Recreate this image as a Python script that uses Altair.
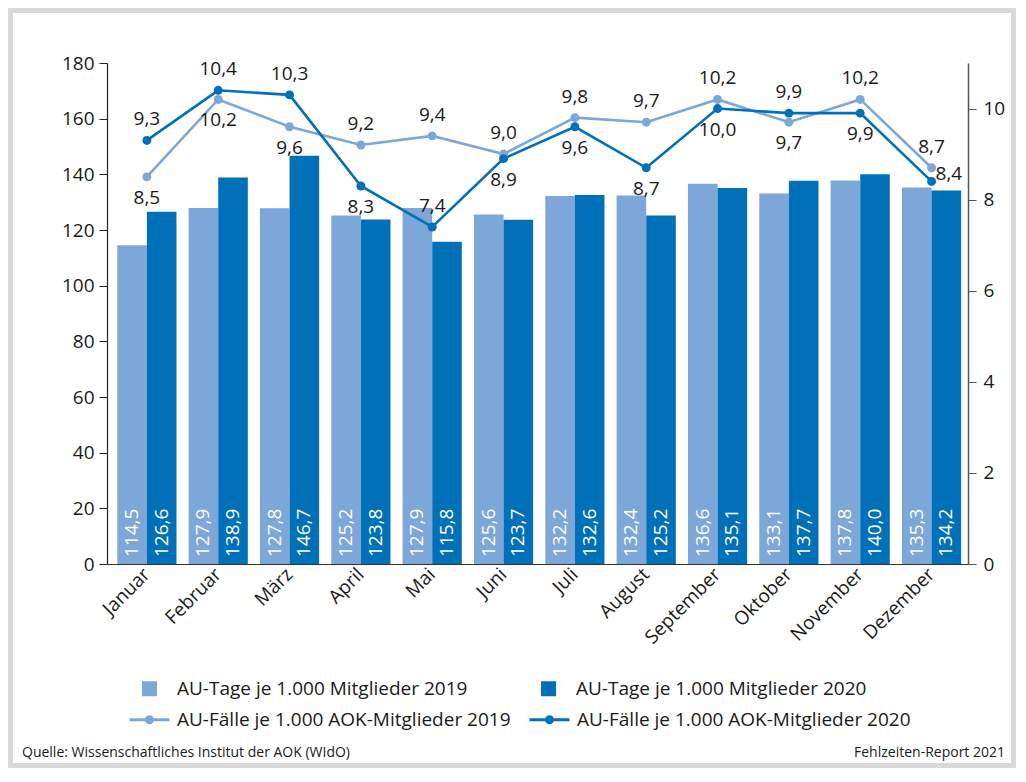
import altair as alt
import pandas as pd

FONT = "Open Sans"
LIGHT = "#7da7d8"
DARK = "#0071b8"
TXT = "#1a1a1a"

months = ["Januar", "Februar", "März", "April", "Mai", "Juni", "Juli",
          "August", "September", "Oktober", "November", "Dezember"]
tage_2019 = [114.5, 127.9, 127.8, 125.2, 127.9, 125.6, 132.2, 132.4, 136.6, 133.1, 137.8, 135.3]
tage_2020 = [126.6, 138.9, 146.7, 123.8, 115.8, 123.7, 132.6, 125.2, 135.1, 137.7, 140.0, 134.2]
faelle_2019 = [8.5, 10.2, 9.6, 9.2, 9.4, 9.0, 9.8, 9.7, 10.2, 9.7, 10.2, 8.7]
faelle_2020 = [9.3, 10.4, 10.3, 8.3, 7.4, 8.9, 9.6, 8.7, 10.0, 9.9, 9.9, 8.4]
label_pos_2019 = ["below", "below", "below", "above", "above", "above",
                  "above", "above", "above", "below", "above", "above"]
label_pos_2020 = ["above", "above", "above", "below", "above", "below",
                  "below", "below", "below", "above", "below", "right"]

bar_names = ["AU-Tage je 1.000 Mitglieder 2019", "AU-Tage je 1.000 Mitglieder 2020"]
line_names = ["AU-Fälle je 1.000 AOK-Mitglieder 2019", "AU-Fälle je 1.000 AOK-Mitglieder 2020"]


def fmt(v):
    return f"{v:.1f}".replace(".", ",")


bar_rows = []
for name, vals in zip(bar_names, [tage_2019, tage_2020]):
    for i, (m, v) in enumerate(zip(months, vals)):
        bar_rows.append({"month": m, "idx": i, "series": name, "value": v, "label": fmt(v)})
bars_df = pd.DataFrame(bar_rows)

line_rows = []
for name, vals, poss in zip(line_names, [faelle_2019, faelle_2020], [label_pos_2019, label_pos_2020]):
    for i, (m, v, p) in enumerate(zip(months, vals, poss)):
        line_rows.append({"month": m, "idx": i, "series": name, "value": v, "label": fmt(v), "pos": p})
lines_df = pd.DataFrame(line_rows)

x_scale = alt.Scale(domain=months, paddingInner=0.17, paddingOuter=0.12, align=0.6)
x_axis = alt.Axis(title=None, labelAngle=-45, labelAlign="right", labelBaseline="middle",
                  labelFont=FONT, labelFontSize=19, labelColor=TXT, ticks=False,
                  labelPadding=7, domainColor="#333333", domainWidth=1.2)
X = alt.X("month:N", sort=months, scale=x_scale, axis=x_axis)

# ---- left: bars ----
bars = alt.Chart(bars_df).mark_bar().encode(
    x=X,
    xOffset=alt.XOffset("series:N", sort=bar_names),
    y=alt.Y("value:Q", scale=alt.Scale(domain=[0, 180], nice=False),
            axis=alt.Axis(title=None, values=list(range(0, 181, 20)), grid=False,
                          labelFont=FONT, labelFontSize=19, labelColor=TXT,
                          tickSize=8, tickColor="#222222", domainColor="#222222",
                          labelPadding=5, domainWidth=1.2)),
    color=alt.Color("series:N",
                    scale=alt.Scale(domain=bar_names, range=[LIGHT, DARK]),
                    legend=alt.Legend(title=None, orient="none", legendX=33, legendY=616,
                                      direction="horizontal", columns=2,
                                      symbolType="square", symbolSize=225,
                                      labelFont=FONT, labelFontSize=19, labelColor=TXT,
                                      labelOffset=18, columnPadding=71, padding=0,
                                      labelLimit=600, symbolStrokeWidth=0)),
)

bar_labels = alt.Chart(bars_df).mark_text(
    angle=270, align="left", baseline="middle", dx=7, color="white",
    font=FONT, fontSize=19
).encode(
    x=X,
    xOffset=alt.XOffset("series:N", sort=bar_names),
    y=alt.datum(0),
    text="label:N",
)

left = alt.layer(bars, bar_labels)

# ---- right: lines ----
Y2 = alt.Y("value:Q", scale=alt.Scale(domain=[0, 11], nice=False),
           axis=alt.Axis(title=None, orient="right", values=[0, 2, 4, 6, 8, 10], grid=False,
                         labelFont=FONT, labelFontSize=19, labelColor=TXT,
                         tickSize=8, tickColor="#555555", domainColor="#555555",
                         labelPadding=7, domainWidth=1.5))

legend_path = ("M-1,0L1,0"
               "M0.15,0A0.15,0.15,0,1,1,-0.15,0A0.15,0.15,0,1,1,0.15,0Z"
               "M0.07,0A0.07,0.07,0,1,1,-0.07,0A0.07,0.07,0,1,1,0.07,0Z")

lines = alt.Chart(lines_df).mark_line(strokeWidth=2.6).encode(
    x=X,
    y=Y2,
    order=alt.Order("idx:Q"),
    color=alt.Color("series:N",
                    scale=alt.Scale(domain=line_names, range=[LIGHT, DARK]),
                    legend=alt.Legend(title=None, orient="none", legendX=21, legendY=635,
                                      direction="horizontal", columns=2,
                                      symbolType=legend_path, symbolSize=1600,
                                      symbolStrokeWidth=3,
                                      labelFont=FONT, labelFontSize=19, labelColor=TXT,
                                      labelOffset=6, columnPadding=12, padding=0,
                                      labelLimit=600)),
)

points = alt.Chart(lines_df).mark_circle(size=80, opacity=1).encode(
    x=X,
    y=Y2,
    fill=alt.Fill("series:N", scale=alt.Scale(domain=line_names, range=[LIGHT, DARK]),
                  legend=None),
)


def val_labels(pos, **kw):
    return alt.Chart(lines_df).transform_filter(
        alt.datum.pos == pos
    ).mark_text(font=FONT, fontSize=19, color=TXT, **kw).encode(
        x=X, y=Y2, text="label:N"
    )


lab_above = val_labels("above", dy=-21, baseline="middle")
lab_below = val_labels("below", dy=21, baseline="middle")
lab_right = val_labels("right", dx=4, dy=-7, align="left", baseline="middle")

right = alt.layer(lines, points, lab_above, lab_below, lab_right)

# ---- frame and footer ----
frame = alt.Chart(pd.DataFrame({"a": [0]})).mark_rect(
    fill="transparent", stroke="#d9d9d9", strokeWidth=5
).encode(
    x=alt.value(-96.5), x2=alt.value(906.5), y=alt.value(-52.5), y2=alt.value(702.5)
)

foot_left = alt.Chart(pd.DataFrame({"t": ["Quelle: Wissenschaftliches Institut der AOK (WIdO)"]})).mark_text(
    font=FONT, fontSize=14, color=TXT, align="left", baseline="middle"
).encode(x=alt.value(-85), y=alt.value(690), text="t:N")

foot_right = alt.Chart(pd.DataFrame({"t": ["Fehlzeiten-Report 2021"]})).mark_text(
    font=FONT, fontSize=14, color=TXT, align="right", baseline="middle"
).encode(x=alt.value(898), y=alt.value(690), text="t:N")

chart = alt.layer(left, right, frame, foot_left, foot_right).resolve_scale(
    y="independent", color="independent"
).properties(
    width=861, height=501,
    padding={"left": 99, "top": 55, "right": 48, "bottom": 204},
    autosize=alt.AutoSizeParams(type="none"),
    background="white",
).configure_view(stroke=None)

chart.save("out.html", embed_options={"renderer": "svg", "actions": False})
